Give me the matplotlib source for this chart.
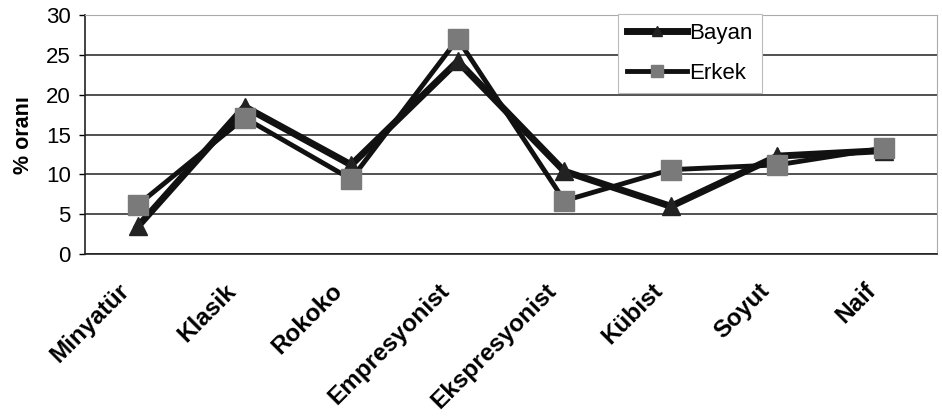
import matplotlib
matplotlib.use("Agg")
import matplotlib.pyplot as plt
from matplotlib.transforms import ScaledTranslation, blended_transform_factory

categories = ["Minyatür", "Klasik", "Rokoko", "Empresyonist", "Ekspresyonist", "Kübist", "Soyut", "Naif"]
bayan = [3.5, 18.5, 11.2, 24.2, 10.4, 6.0, 12.3, 13.0]
erkek = [6.2, 17.1, 9.4, 27.0, 6.7, 10.6, 11.2, 13.3]
yticks = [0, 5, 10, 15, 20, 25, 30]

plt.rcParams['font.family'] = ['Liberation Sans', 'DejaVu Sans']

fig = plt.figure(figsize=(9.42, 4.18), dpi=100)
ax = fig.add_axes([0.090, 0.392, 0.905, 0.572])

x = list(range(len(categories)))
ax.plot(x, bayan, color='#111111', lw=5, marker='^', markersize=13,
        markerfacecolor='#222222', markeredgecolor='#222222', label='Bayan', zorder=3)
ax.plot(x, erkek, color='#111111', lw=3.5, marker='s', markersize=14,
        markerfacecolor='#7a7a7a', markeredgecolor='#7a7a7a', label='Erkek', zorder=4)

ax.set_xlim(-0.5, len(categories) - 0.5)
ax.set_ylim(0, 30)
ax.set_yticks(yticks)
ax.set_yticklabels([str(v) for v in yticks], fontsize=16)
ax.set_xticks(x)
ax.set_xticklabels([])
ax.tick_params(axis='x', length=0)
ax.tick_params(axis='y', length=4, width=1, direction='out', pad=6)

trans = blended_transform_factory(ax.transData, ax.transAxes) + \
    ScaledTranslation(-20 / 100, -25 / 100, fig.dpi_scale_trans)
for xi, lab in zip(x, categories):
    ax.text(xi, 0, lab, transform=trans, rotation=45, ha='right', va='top',
            rotation_mode='anchor', fontsize=17.5, fontweight='bold', clip_on=False)

ax.yaxis.grid(True, color='#222222', lw=1.1)
ax.set_axisbelow(True)
ax.set_ylabel('% oranı', fontsize=15.5, fontweight='bold', labelpad=9)

for s in ['top', 'right']:
    ax.spines[s].set_color('#aaaaaa')
    ax.spines[s].set_linewidth(0.8)
for s in ['left', 'bottom']:
    ax.spines[s].set_color('#222222')
    ax.spines[s].set_linewidth(1.2)

leg = ax.legend(loc='upper left', bbox_to_anchor=(0.626, 1.005), fontsize=16,
                frameon=True, fancybox=False, edgecolor='#bbbbbb', framealpha=1,
                handlelength=2.7, borderpad=0.4, labelspacing=0.85, handletextpad=0.1,
                borderaxespad=0.0, markerscale=0.6)
leg.get_frame().set_linewidth(0.8)

fig.savefig('out.png', dpi=100, facecolor='white')
